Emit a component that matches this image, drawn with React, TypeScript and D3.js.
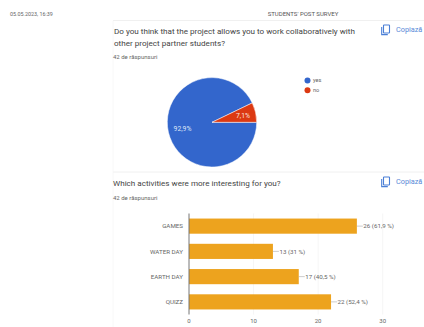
import React from "react";
import * as d3 from "d3";

const pieLabels = ["yes", "no"];
const pieCounts = [39, 3];
const pieColors = ["#3366cc", "#dc3912"];
const pieText = ["92,9%", "7,1%"];
const activities = ["GAMES", "WATER DAY", "EARTH DAY", "QUIZZ"];
const activityCounts = [26, 13, 17, 22];
const activityText = ["26 (61,9 %)", "13 (31 %)", "17 (40,5 %)", "22 (52,4 %)"];
const xTicks = [0, 10, 20, 30];

const FONT = "Roboto, Arial, sans-serif";

function CopyIcon({ x, y }: { x: number; y: number }) {
  return (
    <g transform={`translate(${x},${y})`} fill="none" stroke="#4a7fd6" strokeWidth={1.1}>
      <rect x={2.5} y={0} width={6} height={8} rx={0.6} />
      <path d="M0.7 2 V9.6 H6.8" />
    </g>
  );
}

export default function App() {
  const pie = d3
    .pie<number>()
    .sort(null)
    .startAngle(Math.PI / 2)
    .endAngle(Math.PI / 2 + 2 * Math.PI)(pieCounts);
  const arc = d3.arc<d3.PieArcDatum<number>>().innerRadius(0).outerRadius(44.7);

  const x = d3.scaleLinear().domain([0, 30]).range([189, 382.7]);
  const y = d3.scaleBand<string>().domain(activities).range([213.5, 314.5]).paddingInner(0.4).paddingOuter(0.2);

  return (
    <svg
      width={424}
      height={327}
      style={{ position: "absolute", left: 0, top: 0, background: "#fff" }}
      fontFamily={FONT}
    >
      <text x={10} y={15.5} fontSize={5.4} fill="#666">05.05.2023, 16:39</text>
      <text x={303} y={15.5} fontSize={6} fill="#555" textAnchor="middle">STUDENTS' POST SURVEY</text>

      {/* Card outlines */}
      <path d="M113 20.5 H424 M113 172 H424" stroke="#ececec" strokeWidth={0.8} fill="none" />
      <path d="M113 20.5 V172 M113 172 V327" stroke="#f6f6f6" strokeWidth={0.8} fill="none" />

      {/* First question */}
      <text x={114} y={33.5} fontSize={8.1} fill="#444">Do you think that the project allows you to work collaboratively with</text>
      <text x={114} y={45.5} fontSize={8.1} fill="#444">other project partner students?</text>
      <text x={113} y={58.5} fontSize={6} fill="#666">42 de răspunsuri</text>
      <CopyIcon x={381} y={25} />
      <text x={396} y={32} fontSize={7.3} fill="#5a8ad8">Copiază</text>

      <g transform="translate(212,122.3)">
        {pie.map((d, i) => (
          <path key={pieLabels[i]} d={arc(d) ?? ""} fill={pieColors[i]} stroke="#fff" strokeWidth={0.5} />
        ))}
        <text x={-29.5} y={8.7} fontSize={6.8} fill="#dfe7f8" textAnchor="middle">{pieText[0]}</text>
        <text x={31} y={-4.5} fontSize={6.8} fill="#fbe4de" textAnchor="middle">{pieText[1]}</text>
      </g>

      {pieLabels.map((label, i) => (
        <g key={label}>
          <circle cx={307.5} cy={80.5 + i * 9.7} r={3} fill={pieColors[i]} />
          <text x={313} y={82.3 + i * 9.7} fontSize={5.6} fill="#666">{label}</text>
        </g>
      ))}

      {/* Second question */}
      <text x={113} y={186} fontSize={8.1} fill="#444">Which activities were more interesting for you?</text>
      <text x={113} y={200} fontSize={6} fill="#666">42 de răspunsuri</text>
      <CopyIcon x={381} y={177} />
      <text x={396} y={184} fontSize={7.3} fill="#5a8ad8">Copiază</text>

      {xTicks.slice(1).map((t) => (
        <line key={t} x1={x(t)} x2={x(t)} y1={213.5} y2={314.5} stroke="#f0f0f0" strokeWidth={0.7} />
      ))}

      {activities.map((name, i) => {
        const top = y(name) ?? 0;
        const mid = top + y.bandwidth() / 2;
        const end = x(activityCounts[i]);
        return (
          <g key={name}>
            <text x={183} y={mid + 2.2} fontSize={6.2} fill="#666" textAnchor="end">{name}</text>
            <rect x={x(0)} y={top} width={end - x(0)} height={y.bandwidth()} fill="#eda31e" />
            <line x1={end} x2={end + 6} y1={mid} y2={mid} stroke="#aaa" strokeWidth={0.6} />
            <text x={end + 6.5} y={mid + 2.2} fontSize={6.2} fill="#666">{activityText[i]}</text>
          </g>
        );
      })}

      <line x1={x(0)} x2={x(0)} y1={213.5} y2={314.5} stroke="#777" strokeWidth={1} />

      {xTicks.map((t) => (
        <text key={t} x={x(t)} y={323} fontSize={6} fill="#666" textAnchor="middle">{t}</text>
      ))}
    </svg>
  );
}
